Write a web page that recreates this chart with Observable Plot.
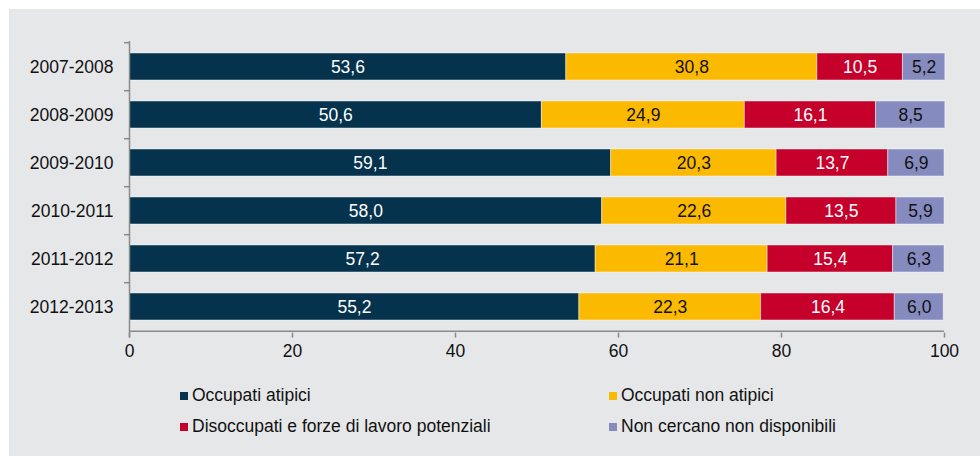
<!DOCTYPE html>
<html>
<head>
<meta charset="utf-8">
<script src="https://cdn.jsdelivr.net/npm/d3@7"></script>
<script src="https://cdn.jsdelivr.net/npm/@observablehq/plot@0.6"></script>
<style>
  html, body { margin: 0; padding: 0; background: #ffffff; }
  #panel {
    position: absolute; left: 9px; top: 9px; width: 971px; height: 447px;
    background: #e6e7e9; font-family: "Liberation Sans", Arial, sans-serif; color: #111;
  }
  #chart svg { display: block; }
  .leg { position: absolute; font-size: 17.5px; line-height: 20px; white-space: nowrap; color: #111; }
  .leg .sw { display: inline-block; width: 8px; height: 8px; margin-right: 4px; vertical-align: 1px; }
</style>
</head>
<body>
<div id="panel">
  <div id="chart"></div>
  <div id="legend"></div>
</div>
<script>
const years = ["2007-2008", "2008-2009", "2009-2010", "2010-2011", "2011-2012", "2012-2013"];
const seriesNames = ["Occupati atipici", "Occupati non atipici", "Disoccupati e forze di lavoro potenziali", "Non cercano non disponibili"];
const seriesColors = ["#05324c", "#fbb900", "#c4002b", "#868bbf"];
const whiteLabel = [true, false, true, false];
const occupatiAtipici = [53.6, 50.6, 59.1, 58.0, 57.2, 55.2];
const occupatiNonAtipici = [30.8, 24.9, 20.3, 22.6, 21.1, 22.3];
const disoccupati = [10.5, 16.1, 13.7, 13.5, 15.4, 16.4];
const nonCercano = [5.2, 8.5, 6.9, 5.9, 6.3, 6.0];
const xTicks = [0, 20, 40, 60, 80, 100];

const seriesValues = [occupatiAtipici, occupatiNonAtipici, disoccupati, nonCercano];
const data = [];
years.forEach((y, i) => {
  seriesNames.forEach((s, j) => {
    data.push({year: y, series: s, value: seriesValues[j][i], white: whiteLabel[j]});
  });
});
const fmt = v => v.toFixed(1).replace(".", ",");

const W = 971, H = 372, mL = 120, mR = 36, mT = 32, mB = 48.4;
const step = (H - mT - mB) / years.length;
const axisColor = "#8a8a8a";

const stackOpts = {x: "value", y: "year", z: "series", order: seriesNames};

const plot = Plot.plot({
  width: W, height: H,
  marginLeft: mL, marginRight: mR, marginTop: mT, marginBottom: mB,
  style: {fontFamily: "Liberation Sans, Arial, sans-serif", fontSize: "17.5px", color: "#111", background: "transparent", overflow: "visible"},
  x: {domain: [0, 100], ticks: xTicks, label: null},
  y: {domain: years, paddingInner: 0.445, paddingOuter: 0.2225, label: null},
  color: {domain: seriesNames, range: seriesColors},
  opacity: {type: "identity"},
  marks: [
    Plot.barX(data, Plot.stackX({...stackOpts, fill: "series", stroke: "#ffffff", strokeOpacity: 0.45, strokeWidth: 1})),
    Plot.text(data, Plot.stackX({...stackOpts, text: d => fmt(d.value), fill: "#ffffff", fillOpacity: d => d.white ? 1 : 0})),
    Plot.text(data, Plot.stackX({...stackOpts, text: d => fmt(d.value), fill: "#111111", fillOpacity: d => d.white ? 0 : 1})),
    // vertical axis line
    Plot.ruleX([0], {stroke: axisColor, strokeWidth: 1.5, insetBottom: -5}),
    // y boundary ticks
    Plot.ruleY(years, {y: d => d, dy: -step / 2, x1: 0, x2: 0, insetLeft: -5, stroke: axisColor, strokeWidth: 1.5}),
    // horizontal axis line at bottom boundary
    Plot.ruleY([years[years.length - 1]], {y: d => d, dy: step / 2, x1: 0, x2: 100, stroke: axisColor, strokeWidth: 1.5}),
    Plot.axisX({ticks: xTicks, tickSize: 5, tickPadding: 6, stroke: axisColor, strokeWidth: 1.5, label: null, fill: "#111", tickFormat: d => String(d)}),
    Plot.axisY({tickSize: 0, tickPadding: 16, label: null, fill: "#111"})
  ]
});
document.getElementById("chart").appendChild(plot);

// legend
const legend = document.getElementById("legend");
const pos = [[171, 376], [600, 376], [171, 407], [600, 407]];
seriesNames.forEach((s, j) => {
  const el = document.createElement("div");
  el.className = "leg";
  el.style.left = pos[j][0] + "px";
  el.style.top = pos[j][1] + "px";
  el.innerHTML = `<span class="sw" style="background:${seriesColors[j]}"></span>${s}`;
  legend.appendChild(el);
});
</script>
</body>
</html>
